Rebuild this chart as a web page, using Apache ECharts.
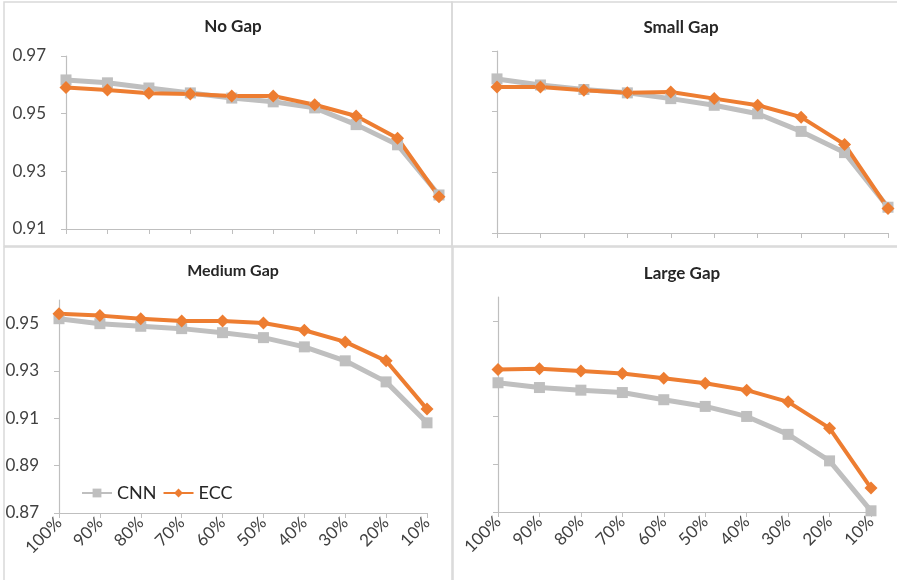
<!DOCTYPE html>
<html>
<head>
<meta charset="utf-8">
<script src="https://cdn.jsdelivr.net/npm/echarts@6/dist/echarts.min.js"></script>
<style>
  html, body { margin: 0; padding: 0; background: #fff; }
  #main { width: 897px; height: 580px; }
</style>
</head>
<body>
<div id="main"></div>
<script>
var categories = ['100%', '90%', '80%', '70%', '60%', '50%', '40%', '30%', '20%', '10%']
var panelTitles = ['No Gap', 'Small Gap', 'Medium Gap', 'Large Gap']

var cnnNoGap = [0.9617, 0.9607, 0.9589, 0.9572, 0.9554, 0.9541, 0.9520, 0.9462, 0.9392, 0.9218]
var eccNoGap = [0.9591, 0.9582, 0.9571, 0.9568, 0.9561, 0.9561, 0.9531, 0.9492, 0.9415, 0.9212]
var cnnSmallGap = [0.9608, 0.9588, 0.9573, 0.9562, 0.9543, 0.9521, 0.9493, 0.9435, 0.9365, 0.9185]
var eccSmallGap = [0.9581, 0.9581, 0.9571, 0.9562, 0.9565, 0.9543, 0.9521, 0.9482, 0.9392, 0.9181]
var cnnMediumGap = [0.9521, 0.9500, 0.9489, 0.9479, 0.9462, 0.9441, 0.9402, 0.9343, 0.9254, 0.9081]
var eccMediumGap = [0.9542, 0.9534, 0.9521, 0.9511, 0.9511, 0.9503, 0.9472, 0.9423, 0.9343, 0.9139]
var cnnLargeGap = [0.9241, 0.9221, 0.9210, 0.9200, 0.9170, 0.9142, 0.9100, 0.9025, 0.8914, 0.8705]
var eccLargeGap = [0.9297, 0.9300, 0.9290, 0.9280, 0.9260, 0.9239, 0.9210, 0.9161, 0.9051, 0.8800]

var topTicks = [0.91, 0.93, 0.95, 0.97]
var bottomTicks = [0.87, 0.89, 0.91, 0.93, 0.95]

var grey = '#bfbfbf'
var orange = '#ed7d31'
var font = 'Lato'

var chart = echarts.init(document.getElementById('main'))

var grids = [
    { left: 66, top: 56, width: 373, height: 173 },
    { left: 497, top: 51, width: 391, height: 182 },
    { left: 59, top: 300, width: 368, height: 213 },
    { left: 498, top: 297, width: 373, height: 215 },
]

var xAxes = grids.map(function (g, i) {
    return {
        type: 'category',
        gridIndex: i,
        data: categories,
        boundaryGap: false,
        axisLine: { lineStyle: { color: grey, width: 1.2 } },
        axisTick: { show: true, length: 5, lineStyle: { color: grey } },
        axisLabel: {
            show: i >= 2,
            rotate: 45,
            margin: 7,
            interval: 0,
            color: '#404040',
            fontFamily: font,
            fontSize: 17,
        },
        splitLine: { show: false },
    }
})

var yAxes = grids.map(function (g, i) {
    var ticks = i < 2 ? topTicks : bottomTicks
    return {
        type: 'value',
        gridIndex: i,
        min: i < 2 ? 0.91 : 0.87,
        max: i < 2 ? 0.97 : 0.96,
        axisLine: { show: true, lineStyle: { color: grey, width: 1.2 } },
        axisTick: { show: true, length: 5, lineStyle: { color: grey }, customValues: ticks },
        axisLabel: {
            show: i === 0 || i === 2,
            customValues: ticks,
            margin: 20,
            color: '#404040',
            fontFamily: font,
            fontSize: 17,
        },
        splitLine: { show: false },
    }
})

var titlePos = [
    { left: 228, top: 13, size: 17 },
    { left: 676, top: 14, size: 17 },
    { left: 228, top: 258, size: 16 },
    { left: 677, top: 260, size: 17 },
]

var titles = panelTitles.map(function (t, i) {
    return {
        text: t,
        left: titlePos[i].left,
        top: titlePos[i].top,
        textAlign: 'center',
        textStyle: { fontFamily: font, fontWeight: 'bold', fontSize: titlePos[i].size, color: '#262626' },
    }
})

var cnnData = [cnnNoGap, cnnSmallGap, cnnMediumGap, cnnLargeGap]
var eccData = [eccNoGap, eccSmallGap, eccMediumGap, eccLargeGap]

var series = []
for (var i = 0; i < 4; i++) {
    series.push({
        name: 'CNN',
        type: 'line',
        xAxisIndex: i,
        yAxisIndex: i,
        data: cnnData[i],
        symbol: 'rect',
        symbolSize: 11,
        itemStyle: { color: grey },
        lineStyle: { color: grey, width: 5 },
        animation: false,
    })
    series.push({
        name: 'ECC',
        type: 'line',
        xAxisIndex: i,
        yAxisIndex: i,
        data: eccData[i],
        symbol: 'diamond',
        symbolSize: 13,
        itemStyle: { color: orange },
        lineStyle: { color: orange, width: 4 },
        animation: false,
    })
}

// panel borders
var boxes = [
    [4, 2, 448, 244],
    [452, 2, 450, 244],
    [4, 247, 448, 340],
    [453, 247, 450, 340],
]

var option = {
    backgroundColor: '#fff',
    title: titles,
    legend: {
        data: ['CNN', 'ECC'],
        left: 76,
        top: 479,
        itemWidth: 30,
        itemHeight: 11,
        itemGap: 6,
        textStyle: { fontFamily: font, fontSize: 18, color: '#262626' },
    },
    grid: grids,
    xAxis: xAxes,
    yAxis: yAxes,
    series: series,
    graphic: boxes.map(function (b) {
        return {
            type: 'rect',
            shape: { x: b[0], y: b[1], width: b[2], height: b[3] },
            style: { fill: 'none', stroke: '#d9d9d9', lineWidth: 1.5 },
            silent: true,
        }
    }),
}
chart.setOption(option)
</script>
</body>
</html>
